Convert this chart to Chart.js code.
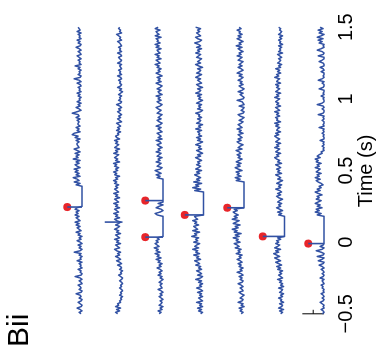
<!DOCTYPE html>
<html>
<head>
<meta charset="utf-8">
<script src="https://cdn.jsdelivr.net/npm/chart.js@4.4.1/dist/chart.umd.min.js"></script>
<style>
  html, body { margin: 0; padding: 0; background: #fff; }
  body { width: 376px; height: 360px; overflow: hidden; position: relative; }
  #rot { position: absolute; left: 0; top: 0; width: 360px; height: 376px;
         transform-origin: 0 0; transform: translate(0px, 360px) rotate(-90deg); }
  #c { display: block; }
  #lab { position: absolute; left: 13px; top: 2.6px; font-family: 'Liberation Sans', Arial, Helvetica, sans-serif;
         font-size: 30px; line-height: 30px; color: #000; white-space: nowrap; }
</style>
</head>
<body>
<div id="rot">
  <canvas id="c" width="360" height="376"></canvas>
  <div id="lab">Bii</div>
</div>
<script>
// ---- data ----
const T0 = -0.5;           // time of first sample (s)
const DT = 0.01;           // sample interval (s)
const tickVals = [-0.5, 0, 0.5, 1, 1.5];
const tickLabels = ['\u22120.5', '0', '0.5', '1', '1.5'];
const axisTitle = 'Time (s)';

// trace baselines (amplitude units)
const traceOffsets = [79, 120, 161, 202, 243, 284, 324];

// amplitude of each trace at each sample (upward deflection from baseline)
const trace1 = [
  1,3,0,2,5,1,0,2,4,1, 0,3,1,2,6,1,0,3,1,2, 4,0,1,3,0,2,7,1,0,2, 1,4,0,2,1,3,0,5,1,2,
  0,3,1,8,2,0,3,1,4,0, 2,5,1,3,0,4,2,6,1,3, 5,2,6,3,7,2,4,6,3,7, 4,6,3,7,5,
  0,0,0,0,0,0,0,0,0,0,0,0,0,0,0,
  6,2,8,3,5,9,2,6,3,7, 4,8,2,5,7,3,6,2,9,4, 6,3,7,2,5,8,3,4,5,5, 3,6,2,7,4,10,8,2,5,3,
  6,2,4,4,3,5,2,6,3,4, 10,5,1,3,6,2,4,1,5,2, 3,1,4,2,5,1,3,2,4,1, 2,5,1,3,8,2,1,4,2,3,
  1,4,2,7,1,3,2,4,1,3, 5,1,2,4,1,3,6,2,1,4, 2,5,1,3,2,4,1,5,2,3, 4];
const trace2 = [
  5,7,3,6,2,7,4,5,2,3, 1,2,0,3,1,2,0,1,3,1, 2,0,1,3,1,0,2,4,1,2, 0,3,1,2,5,1,3,6,2,4,
  7,3,5,2,6,8,3,5,7,2, 6,4,8,3,5,7,2,6,4,8, 5,3,7,4,2,6,8,3,7,5, 9,4,6,8,3,7,5,9,4,6,
  8,3,7,5,9,4,6,8,5,7, 4,8,6,9,5,7,3,8,6,9, 5,7,4,8,6,9,3,7,5,8, 6,4,9,5,7,3,8,6,4,7,
  5,8,3,6,7,4,5,2,6,3, 5,2,4,6,1,3,5,2,4,1, 3,5,2,4,1,3,6,2,1,4, 2,3,1,4,2,0,3,1,5,2,
  1,3,2,4,1,2,5,1,3,2, 4,1,2,3,1,5,2,1,3,4, 1,2,5,1,3,2,4,1,2,3, 5,1,3,2,4,6,1,3,2,4, 3];
const trace3 = [
  4,2,5,1,3,0,4,2,1,3, 0,2,4,1,3,0,2,5,1,2, 3,1,4,2,0,3,1,5,2,4, 1,3,6,2,4,1,5,3,7,2,
  6,4,8,3,7,5,9,4,6,8, 5,7,4,6,
  0,0,0,0,0,0,0,0,0,0,0,0,0,0,
  0,6,8,3,0,2,7,4,0,5,0,
  0,0,0,0,0,0,0,0,0,0,0,0,0,0,0,0,
  6,3,7,2,5,8,3,1,6,4, 2,7,3,5,1,6,4,2,7,3, 5,1,4,6,2,3,7,1,5,2, 4,6,1,3,5,2,7,3,1,4,
  6,2,5,3,1,6,4,2,5,7, 3,1,4,6,2,5,3,7,1,4, 5,2,6,3,1,4,7,2,5,3, 6,1,4,7,3,5,2,6,4,8,
  3,5,7,2,6,4,8,3,5,6, 2,7,4,8,3,6,5,7,2,8, 4,6,7,3,8,5];
const trace4 = [
  3,1,5,2,6,1,4,2,7,1, 3,5,1,4,2,6,1,3,7,2, 4,1,5,2,8,3,1,6,2,4, 7,2,5,3,8,4,6,9,3,7,
  5,10,4,8,6,11,5,9,7,4, 10,6,8,5,12,7,9,4,11,6, 8,10,5,9,7,11,6,8,9,
  0,0,0,0,0,0,0,0,0,0,0,0,0,0,0,0,0,
  9,3,11,5,8,2,10,4,7,3, 6,9,4,7,2,8,5,3,7,4, 6,2,5,8,3,6,1,4,7,2, 5,3,8,4,1,6,3,7,2,5,
  4,6,2,8,3,5,1,7,4,3, 6,2,5,4,8,3,1,6,3,5, 2,7,4,1,5,3,6,2,8,4, 3,6,1,5,7,2,4,6,3,8,
  5,2,7,4,3,6,1,5,8,3, 6,4,2,7,5,3,8,4,6,2, 7,3,5,9,4,2,6,8,3,5, 7,4,6,3,8];
const trace5 = [
  3,1,4,2,5,0,3,1,6,2, 1,4,2,0,3,5,1,2,4,1, 3,6,2,1,4,2,5,1,3,7, 2,4,1,5,3,6,2,4,7,3,
  5,2,8,4,6,3,9,5,7,10, 4,8,6,11,5,9,3,10,7,12, 6,9,4,11,8,5,12,7,10,6, 9,11,7,10,
  0,0,0,0,0,0,0,0,0,0,0,0,0,0,0,0,0,0,0,
  8,4,9,3,7,5,8,2,6,9, 4,7,3,8,5,2,6,4,7,3, 5,8,2,6,4,1,5,7,3,6, 2,4,6,1,5,3,7,2,4,6,
  3,1,5,2,0,4,6,1,0,3, 1,0,5,0,1,2,7,1,0,2, 4,1,6,2,0,3,5,1,4,2, 6,3,1,5,2,7,4,1,3,6,
  2,5,3,1,6,4,2,7,3,5, 1,4,6,2,8,3,5,1,4,7, 3,6,2,5,4,7,3,5];
const trace6 = [
  4,2,5,1,6,3,2,5,1,4, 3,6,2,4,1,5,3,2,6,1, 4,2,5,3,7,2,4,6,3,5, 2,7,4,8,3,6,9,4,7,10,
  5,8,11,6,9,4,10,7,5,9, 6,8,4,7,
  0,0,0,0,0,0,0,0,0,0,0,0,0,0,0,
  6,3,7,2,5,8,4,6,3,7, 5,2,6,8,4,7,3,5,9,4, 6,3,8,5,2,7,4,6,9,3, 7,5,8,4,6,9,3,7,5,8,
  10,6,8,4,9,7,5,10,6,8, 4,9,7,5,8,10,6,9,4,8, 7,5,9,6,10,4,8,7,9,5, 8,6,10,5,7,9,4,8,6,9,
  7,5,10,6,8,4,9,7,5,8, 6,9,4,8,7,5,10,6,8,4, 7,5,9,4,6,3,7,5,4,6, 3,5,7,2,6,4,5,3,6,2,
  5,4,6,3,5,2,6,4,3,5, 4,6];
const trace7 = [
  2,0,1,3,0,1,0,2,4,1, 0,2,0,1,3,0,1,0,2,1, 3,0,1,2,0,4,1,0,2,0, 1,3,0,2,5,1,0,6,2,0,
  7,1,0,3,8,2,0,4,1,
  0,0,0,0,0,0,0,0,0,0,0,0,0,0,0,0,0,0,0,0,
  7,3,9,5,8,2,7,4,9,6, 3,8,5,7,2,6,9,4,7,3, 5,1,3,6,8,4,9,5,7,3, 8,6,4,9,5,7,3,8,6,9,
  4,7,5,2,3,0,1,0,2,0, 1,0,4,0,0,1,0,2,0,1, 0,5,0,1,0,0,2,0,1,0, 6,1,0,0,2,0,1,7,2,0,
  0,1,0,3,0,1,0,0,5,1, 0,0,2,0,6,2,0,1,0,0, 3,0,1,4,0,0,1,5,2,0, 0,6,1,0,2,7,3,0,1,0,
  5,2,6,1,7,3,0,5,2,6, 1,4];
const traces = [trace1, trace2, trace3, trace4, trace5, trace6, trace7];

// marked events (red dots)
const spikeTrace = [0, 2, 2, 3, 4, 5, 6];
const spikeTime  = [0.245, 0.035, 0.29, 0.19, 0.24, 0.04, -0.01];
const spikeAmp   = [15, 18, 18, 19, 17, 22, 16];

// unmarked large event
const extraTrace = [1];
const extraTime  = [0.14];
const extraAmp   = [18];

// scale bar (attached to last trace)
const scaleBarTime = [-0.5, -0.472];
const scaleBarAmp  = [0, 22];
const scaleBarTickAmp = 11;

// ---- chart ----
const FONT = "'Liberation Sans', Arial, Helvetica, sans-serif";
const BLUE = '#3151a3';
const RED = '#e8252a';

const datasets = [];
traces.forEach((amps, i) => {
  datasets.push({
    type: 'line',
    data: amps.map((a, k) => ({ x: T0 + k * DT, y: -traceOffsets[i] + a })),
    borderColor: BLUE, borderWidth: 1.5, pointRadius: 0, tension: 0,
    borderJoinStyle: 'round', fill: false
  });
});
const spikeLines = [];
function addSpikes(trs, ts, amps) {
  trs.forEach((ti, j) => {
    spikeLines.push({ x: ts[j], y: -traceOffsets[ti] });
    spikeLines.push({ x: ts[j], y: -traceOffsets[ti] + amps[j] });
    spikeLines.push({ x: ts[j], y: null });
  });
}
addSpikes(spikeTrace, spikeTime, spikeAmp);
addSpikes(extraTrace, extraTime, extraAmp);
datasets.push({
  type: 'line', data: spikeLines, borderColor: BLUE, borderWidth: 1.6,
  pointRadius: 0, spanGaps: false, fill: false
});
datasets.push({
  type: 'scatter',
  data: spikeTrace.map((ti, j) => ({ x: spikeTime[j], y: -traceOffsets[ti] + spikeAmp[j] })),
  backgroundColor: RED, borderColor: RED, borderWidth: 0, pointRadius: 4, showLine: false
});
const last = traceOffsets[traceOffsets.length - 1];
datasets.push({
  type: 'line',
  data: [
    { x: scaleBarTime[0], y: -last + scaleBarAmp[0] },
    { x: scaleBarTime[0], y: -last + scaleBarAmp[1] },
    { x: scaleBarTime[0], y: null },
    { x: scaleBarTime[0], y: -last + scaleBarTickAmp },
    { x: scaleBarTime[1], y: -last + scaleBarTickAmp }
  ],
  borderColor: '#000', borderWidth: 1, pointRadius: 0, spanGaps: false, fill: false
});

new Chart(document.getElementById('c'), {
  type: 'line',
  data: { datasets },
  options: {
    responsive: false, animation: false, devicePixelRatio: 1,
    layout: { padding: { left: 22, right: 0, top: 0, bottom: 0 } },
    plugins: { legend: { display: false }, tooltip: { enabled: false }, title: { display: false } },
    scales: {
      x: {
        type: 'linear', position: 'bottom', min: -0.669, max: 1.662,
        afterBuildTicks: (s) => { s.ticks = tickVals.map(v => ({ value: v })); },
        afterFit: (s) => { s.height = 46; },
        grid: { display: false, drawTicks: false },
        border: { display: false },
        ticks: {
          autoSkip: false, maxRotation: 0, minRotation: 0, padding: 4, color: '#000',
          font: { family: FONT, size: 20 },
          callback: (v) => { const i = tickVals.indexOf(v); return i >= 0 ? tickLabels[i] : ''; }
        },
        title: {
          display: true, text: axisTitle, color: '#000',
          font: { family: FONT, size: 20, lineHeight: 1 }, padding: { top: 0, bottom: 0 }
        }
      },
      y: { type: 'linear', display: false, min: -330, max: 0 }
    }
  }
});
</script>
</body>
</html>
